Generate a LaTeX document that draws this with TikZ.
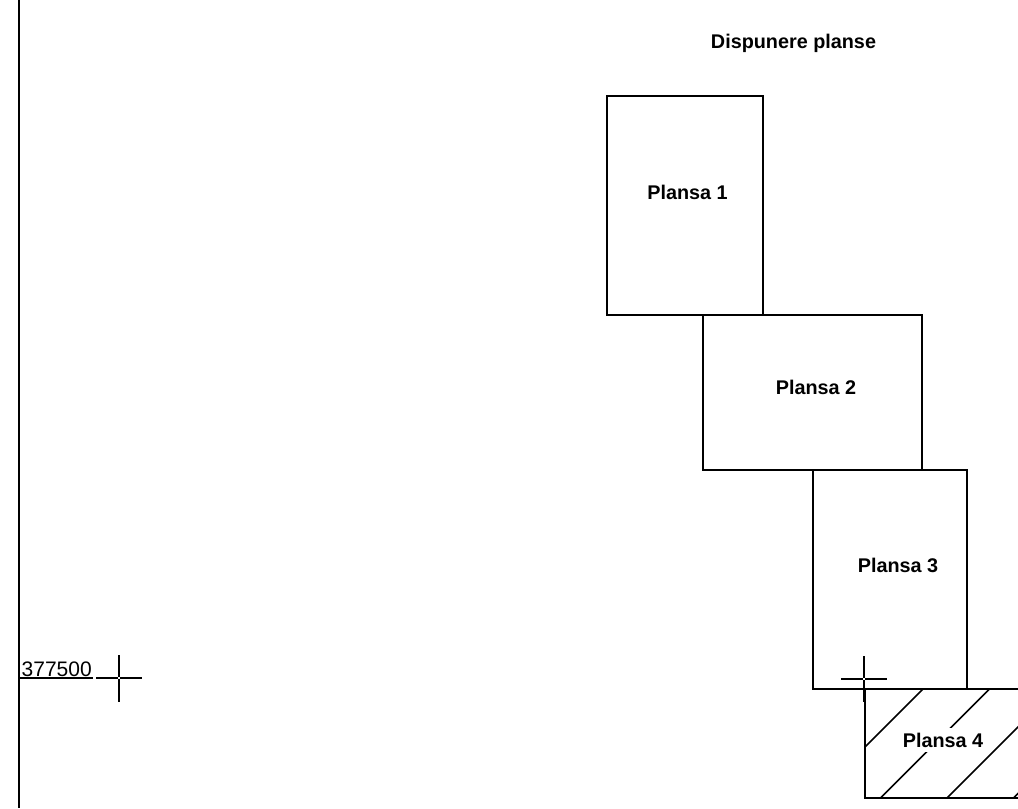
\documentclass[tikz,border=0pt]{standalone}
\usepackage{fontspec}
\setmainfont{Liberation Sans}
\begin{document}
\begin{tikzpicture}[x=1pt,y=-1pt,
  sheet/.style={draw=black,line width=1.7pt,line join=miter},
  lbl/.style={font=\fontsize{19.8}{20}\selectfont\bfseries,anchor=base,inner sep=0pt},
  hatchline/.style={line width=1.5pt},
  cross/.style={line width=1.5pt},
  border/.style={line width=2.4pt}]
\useasboundingbox (0,0) rectangle (1018,809);
\clip (0,0) rectangle (1018,809);
% left border
\coordinate (bt) at (19,0);
\coordinate (bb) at (19,808);
\draw[border] (bt) -- (bb);
% title
\node[lbl] (title) at (793.5,48) {Dispunere planse};
% sheets
\draw[sheet] (607,96) rectangle (763,315);
\node[lbl] (l1) at (687.5,199) {Plansa 1};
\draw[sheet] (703,315) rectangle (922,470);
\node[lbl] (l2) at (816,394) {Plansa 2};
\draw[sheet] (813,470) rectangle (967,689);
\node[lbl] (l3) at (898,572) {Plansa 3};
% sheet 4 hatched
\begin{scope}
\clip (865,689) rectangle (1084,798);
\foreach \c in {1612,1678.5,1745,1811.5,1878}{
  \draw[hatchline] (\c-689+40,689-40) -- (\c-798-40,798+40);
}
\end{scope}
\draw[sheet] (865,689) rectangle (1084,798);
\node[lbl,fill=white,inner sep=5pt] (l4) at (943,747) {Plansa 4};
% coordinate label
\node[font=\fontsize{21}{22}\selectfont,anchor=base west,inner sep=0pt] (coordlbl) at (21.5,676) {377500};
\coordinate (ula) at (18,678);
\coordinate (ulb) at (93,678);
\draw[line width=1.6pt] (ula) -- (ulb);
% crosshair 1
\coordinate (c1) at (119,678);
\draw[cross] (96,678) -- (118,678) (120,678) -- (142,678)
             (119,655) -- (119,677) (119,679) -- (119,702);
% crosshair 2
\coordinate (c2) at (864,679);
\draw[cross] (841,679) -- (863,679) (865,679) -- (887,679)
             (864,656) -- (864,678) (864,680) -- (864,702);
\end{tikzpicture}
\end{document}
